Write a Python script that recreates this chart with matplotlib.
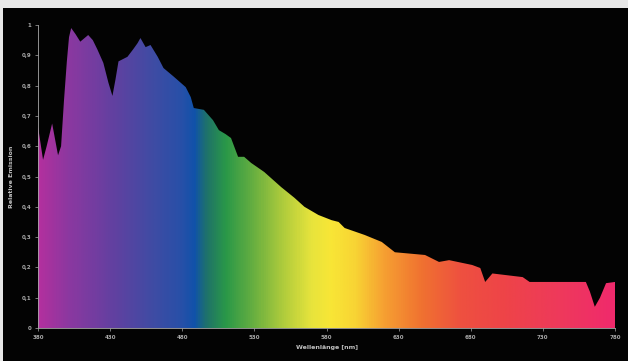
import numpy as np
import matplotlib
matplotlib.use("Agg")
import matplotlib.pyplot as plt
from matplotlib.colors import LinearSegmentedColormap

# emission spectrum (wavelength in nm, relative emission)
wavelength = [380, 383.5, 386, 389.8, 393.9, 396, 398, 400, 401.5, 403, 406, 409.3,
              414.8, 418, 421.1, 425.3, 428.8, 431.6, 433.7, 435.8, 442, 446, 449,
              451, 454.6, 458, 463, 467, 474, 482.4, 485.9, 488, 495, 501.3, 505.4,
              510, 513.8, 518.7, 522.9, 527.7, 536.8, 548.6, 557.7, 564.7, 574.4,
              583.5, 588.4, 592.6, 606.5, 618.3, 627.4, 634.4, 648.3, 658, 665, 681,
              686.6, 690, 695, 716, 720.8, 741.7, 759.8, 762.6, 766, 769.6, 773.8, 780]
emission = [0.665, 0.555, 0.6, 0.675, 0.57, 0.6, 0.75, 0.88, 0.96, 0.99, 0.97, 0.945,
            0.967, 0.95, 0.92, 0.875, 0.81, 0.766, 0.82, 0.88, 0.895, 0.92, 0.94,
            0.957, 0.927, 0.934, 0.895, 0.858, 0.83, 0.795, 0.762, 0.726, 0.72, 0.686,
            0.653, 0.64, 0.627, 0.565, 0.565, 0.545, 0.515, 0.465, 0.43, 0.40, 0.373,
            0.356, 0.35, 0.33, 0.307, 0.284, 0.25, 0.247, 0.241, 0.218, 0.224, 0.208,
            0.198, 0.152, 0.18, 0.168, 0.152, 0.152, 0.152, 0.12, 0.07, 0.10, 0.148, 0.152]

xticks = [380, 430, 480, 530, 580, 630, 680, 730, 780]
yticks = [0, 0.1, 0.2, 0.3, 0.4, 0.5, 0.6, 0.7, 0.8, 0.9, 1]
ytick_labels = ["0", "0,1", "0,2", "0,3", "0,4", "0,5", "0,6", "0,7", "0,8", "0,9", "1"]

# rainbow fill colours along the wavelength axis
grad_nm = [380, 400, 430, 460, 480, 488, 497, 510, 530, 550, 570, 583, 600, 620, 646,
           674, 704, 740, 780]
grad_col = ["#b2309e", "#8c38a0", "#6440a0", "#3e4ca4", "#2650a8", "#1052aa", "#1f7468",
            "#2a9848", "#6ab040", "#b0cc3c", "#e8e43c", "#f8e636", "#f8d434", "#f6a032",
            "#f07230", "#ee5040", "#ee4448", "#ee3a5a", "#f02a6c"]

fig = plt.figure(figsize=(6.28, 3.61), dpi=100, facecolor="#e8e8e8")
# black panel inside the light frame
fig.patches.append(plt.Rectangle((3 / 628, 0), 1, 1 - 8 / 361, transform=fig.transFigure,
                                 facecolor="#030303", edgecolor="none", zorder=-10))

ax = fig.add_axes([38 / 628, 33 / 361, 577 / 628, 303 / 361])
ax.set_facecolor("none")
ax.set_zorder(5)

pos = [(n - 380) / 400 for n in grad_nm]
cmap = LinearSegmentedColormap.from_list("spec", list(zip(pos, grad_col)))
grad = np.linspace(0, 1, 800).reshape(1, -1)
img = ax.imshow(grad, cmap=cmap, extent=[380, 780, 0, 1], aspect="auto", zorder=1)

poly = ax.fill_between(wavelength, 0, emission, facecolor="none", edgecolor="none")
img.set_clip_path(poly.get_paths()[0], transform=ax.transData)

ax.set_xlim(380, 780)
ax.set_ylim(0, 1)
ax.set_xticks(xticks)
ax.set_xticklabels([str(t) for t in xticks])
ax.set_yticks(yticks)
ax.set_yticklabels(ytick_labels)

grey = "#a8a8a8"
ax.tick_params(colors=grey, labelsize=4, length=2, width=0.5, pad=3)
for lbl in ax.get_xticklabels() + ax.get_yticklabels():
    lbl.set_fontweight("bold")
for side in ["top", "right"]:
    ax.spines[side].set_visible(False)
for side in ["left", "bottom"]:
    ax.spines[side].set_color(grey)
    ax.spines[side].set_linewidth(0.6)

ax.set_xlabel("Wellenlänge [nm]", color="#c0c0c0", fontsize=4.5, fontweight="bold", labelpad=4)
ax.set_ylabel("Relative Emission", color="#c0c0c0", fontsize=4.5, fontweight="bold", labelpad=5)

fig.savefig("out.png", dpi=100, facecolor=fig.get_facecolor())
